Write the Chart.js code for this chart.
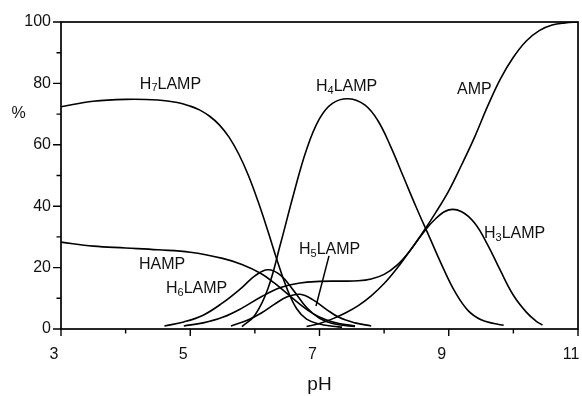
<!DOCTYPE html>
<html>
<head>
<meta charset="utf-8">
<script src="https://cdn.jsdelivr.net/npm/chart.js@4"></script>
<style>
    html, body { margin: 0; padding: 0; background: #fff; }
    canvas { display: block; }
</style>
</head>
<body>
<canvas id="especiesChart" width="582" height="396"></canvas>
<script>
// ==========================================================
// 1. DATOS (pH y porcentaje de cada especie)
// ==========================================================
const phH7 = [3, 3.5, 4, 4.5, 4.8, 5.0, 5.15, 5.3, 5.45, 5.6, 5.75, 5.9, 6.05, 6.2, 6.35, 6.5, 6.65, 6.8, 7.0, 7.2, 7.35];
const valH7 = [72.4, 74.2, 74.8, 74.6, 73.8, 72.6, 71.3, 69.3, 66.5, 62.5, 57, 50, 41.5, 32, 22, 13, 6.5, 3.2, 1.6, 0.9, 0.6];

const phHAMP = [3, 3.5, 4, 4.5, 5, 5.5, 5.8, 6.1, 6.3, 6.5, 6.7, 6.9, 7.1, 7.3, 7.55];
const valHAMP = [28.3, 27, 26.4, 25.8, 25, 23, 21, 18, 15, 11.5, 8, 5, 3, 1.8, 1];

const phH6 = [4.6, 4.9, 5.2, 5.5, 5.8, 6.0, 6.2, 6.4, 6.6, 6.8, 7.0, 7.2, 7.55];
const valH6 = [1, 2.3, 4.5, 8.5, 13.5, 17.3, 19.3, 17.5, 12.5, 7, 3.5, 1.8, 0.8];

const phH5 = [5.63, 5.9, 6.1, 6.3, 6.5, 6.7, 6.9, 7.1, 7.3, 7.55, 7.8];
const valH5 = [1, 3, 5.2, 8, 10.5, 11.3, 9.5, 6.5, 3.8, 2, 1];

const phH4 = [5.8, 6.0, 6.2, 6.4, 6.6, 6.8, 7.0, 7.2, 7.45, 7.7, 7.9, 8.1, 8.3, 8.5, 8.7, 8.9, 9.1, 9.3, 9.5, 9.7, 9.85];
const valH4 = [0.8, 4.5, 13, 28, 44, 58.5, 68.5, 73.5, 75, 73, 68, 59.5, 49.5, 39.5, 30, 20.5, 12, 6, 3, 1.8, 1.2];

const phH3 = [6.8, 7.0, 7.2, 7.4, 7.6, 7.8, 8.0, 8.2, 8.4, 8.6, 8.8, 9.0, 9.2, 9.4, 9.6, 9.8, 10.0, 10.2, 10.35, 10.45];
const valH3 = [0.8, 1.8, 3.3, 5.2, 7.6, 10.8, 14.8, 19.8, 25.5, 31.2, 36, 38.8, 38.2, 34.5, 27.5, 19, 11, 5.5, 2.6, 1.3];

const phAMP = [4.9, 5.2, 5.5, 5.8, 6.1, 6.4, 6.7, 7.0, 7.3, 7.6, 7.8, 8.0, 8.2, 8.4, 8.6, 8.8, 9.0, 9.2, 9.4, 9.6, 9.8, 10.0, 10.2, 10.4, 10.6, 10.8, 11];
const valAMP = [1, 2, 3.8, 6.8, 10.5, 13.5, 15, 15.5, 15.6, 15.7, 16.3, 17.8, 20.8, 25.5, 31.5, 38, 45, 53.5, 62.5, 72.5, 81.5, 88.5, 93.8, 97.2, 99, 99.7, 100];

// Etiquetas de las curvas: [base, subíndice, resto]
const nombresEspecies = [['H', '7', 'LAMP'], ['H', '4', 'LAMP'], ['AMP', '', ''], ['HAMP', '', ''],
                         ['H', '6', 'LAMP'], ['H', '5', 'LAMP'], ['H', '3', 'LAMP']];
const posEtiquetaPh = [4.22, 6.946, 9.128, 4.207, 4.625, 6.683, 9.545];
const posEtiquetaPct = [78.2, 77.5, 76.5, 19.5, 11.7, 24.4, 29.6];

// Línea indicadora de H5LAMP (pH, %)
const guiaH5Ph = [7.147, 6.946];
const guiaH5Pct = [23.8, 7.5];

const ticksX = [3, 5, 7, 9, 11];
const ticksY = [0, 20, 40, 60, 80, 100];

// ==========================================================
// 2. AYUDANTES
// ==========================================================
const unir = (xs, ys) => xs.map((x, i) => ({ x: x, y: ys[i] }));
const FUENTE = '"Liberation Sans", Arial, sans-serif';

function serie(ph, vals) {
    return {
        data: unir(ph, vals),
        borderColor: '#000',
        borderWidth: 1.6,
        pointRadius: 0,
        showLine: true,
        fill: false,
        tension: 0.4
    };
}

// Marco, marcas de los ejes y textos
const pluginDecoracion = {
    id: 'decoracion',
    afterDatasetsDraw(chart) {
        const { ctx, chartArea: a, scales: { x, y } } = chart;
        ctx.save();
        ctx.strokeStyle = '#000';
        ctx.lineWidth = 1.7;
        ctx.strokeRect(a.left, a.top, a.right - a.left, a.bottom - a.top);

        ctx.lineWidth = 1.4;
        ctx.beginPath();
        x.ticks.forEach(t => {
            const px = x.getPixelForValue(t.value);
            const largo = ticksX.includes(t.value) ? 7 : 4.5;
            ctx.moveTo(px, a.bottom);
            ctx.lineTo(px, a.bottom + largo);
        });
        y.ticks.forEach(t => {
            const py = y.getPixelForValue(t.value);
            const largo = ticksY.includes(t.value) ? 8 : 4.5;
            ctx.moveTo(a.left, py);
            ctx.lineTo(a.left - largo, py);
        });
        ctx.stroke();

        // línea guía de H5LAMP
        ctx.lineWidth = 1.5;
        ctx.beginPath();
        ctx.moveTo(x.getPixelForValue(guiaH5Ph[0]), y.getPixelForValue(guiaH5Pct[0]));
        ctx.lineTo(x.getPixelForValue(guiaH5Ph[1]), y.getPixelForValue(guiaH5Pct[1]));
        ctx.stroke();

        // nombres de las especies con subíndice
        ctx.fillStyle = '#111';
        ctx.textBaseline = 'alphabetic';
        ctx.textAlign = 'left';
        nombresEspecies.forEach((partes, i) => {
            let px = x.getPixelForValue(posEtiquetaPh[i]);
            const py = y.getPixelForValue(posEtiquetaPct[i]);
            ctx.font = '16px ' + FUENTE;
            ctx.fillText(partes[0], px, py);
            px += ctx.measureText(partes[0]).width;
            if (partes[1]) {
                ctx.font = '11px ' + FUENTE;
                ctx.fillText(partes[1], px, py + 2.5);
                px += ctx.measureText(partes[1]).width;
                ctx.font = '16px ' + FUENTE;
                ctx.fillText(partes[2], px, py);
            }
        });

        // título del eje Y (horizontal)
        ctx.font = '16px ' + FUENTE;
        ctx.textAlign = 'center';
        ctx.textBaseline = 'middle';
        ctx.fillText('%', 18.5, 114);
        ctx.restore();
    }
};

// ==========================================================
// 3. GRÁFICO
// ==========================================================
document.addEventListener('DOMContentLoaded', () => {
    const ctxEspecies = document.getElementById('especiesChart');

    new Chart(ctxEspecies, {
        type: 'scatter',
        data: {
            datasets: [
                serie(phH7, valH7),
                serie(phHAMP, valHAMP),
                serie(phH6, valH6),
                serie(phH5, valH5),
                serie(phH4, valH4),
                serie(phH3, valH3),
                serie(phAMP, valAMP)
            ]
        },
        options: {
            responsive: false,
            animation: false,
            devicePixelRatio: 1,
            layout: { padding: { top: 22, right: 4, left: 0, bottom: 0 } },
            plugins: {
                legend: { display: false },
                tooltip: { enabled: false }
            },
            scales: {
                x: {
                    type: 'linear',
                    min: 3,
                    max: 11,
                    border: { display: false },
                    grid: { display: false, drawTicks: true, tickLength: 7 },
                    ticks: {
                        stepSize: 1,
                        autoSkip: false,
                        maxRotation: 0,
                        padding: 9,
                        labelOffset: -7,
                        color: '#111',
                        font: { family: FUENTE, size: 16 },
                        callback: v => ticksX.includes(v) ? String(v) : ''
                    },
                    title: {
                        display: true,
                        text: 'pH',
                        color: '#111',
                        font: { family: FUENTE, size: 19 },
                        padding: { top: 0, bottom: 0 }
                    },
                    afterFit: s => { s.height = 67; s.paddingLeft = 0; s.paddingRight = 0; }
                },
                y: {
                    min: 0,
                    max: 100,
                    border: { display: false },
                    grid: { display: false, drawTicks: true, tickLength: 8 },
                    ticks: {
                        stepSize: 10,
                        autoSkip: false,
                        padding: 2,
                        color: '#111',
                        font: { family: FUENTE, size: 16 },
                        callback: v => ticksY.includes(v) ? String(v) : ''
                    },
                    afterFit: s => { s.width = 61; s.paddingTop = 0; s.paddingBottom = 0; }
                }
            }
        },
        plugins: [pluginDecoracion]
    });
});
</script>
</body>
</html>
